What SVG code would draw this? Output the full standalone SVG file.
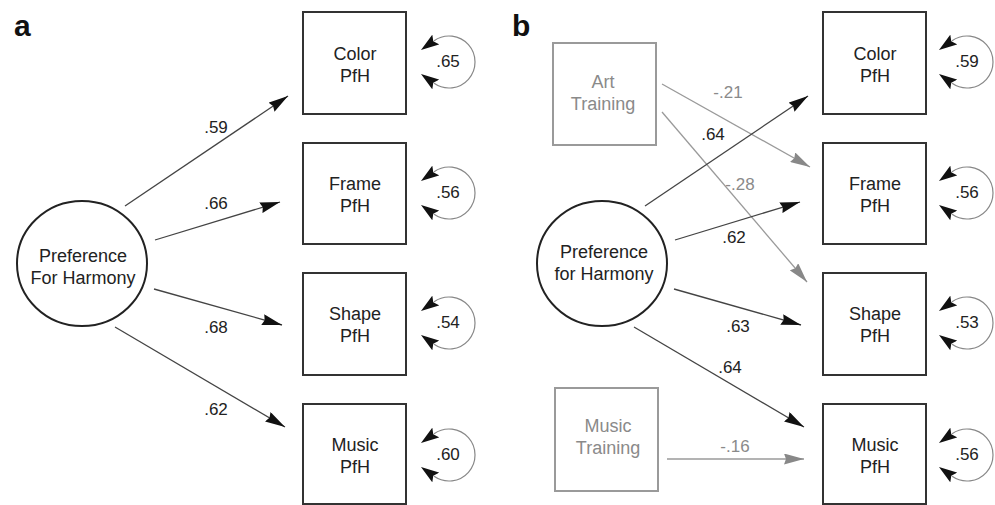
<svg xmlns="http://www.w3.org/2000/svg" width="995" height="505" viewBox="0 0 995 505">
  <style>
    text { font-family: "Liberation Sans", Arial, sans-serif; fill: #222; }
    .panel { font-size: 30px; font-weight: bold; fill: #111; }
    .lbl { font-size: 18px; text-anchor: middle; }
    .num { font-size: 17px; text-anchor: middle; }
    .gtxt { fill: #8a8a8a; }
    .box { fill: #fff; stroke: #333; stroke-width: 2; }
    .gbox { fill: #fff; stroke: #9a9a9a; stroke-width: 2; }
    .lat { fill: #fff; stroke: #222; stroke-width: 2; }
    .edge { stroke: #444; stroke-width: 1.3; fill: none; marker-end: url(#arrow); }
    .gedge { stroke: #9a9a9a; stroke-width: 1.3; fill: none; marker-end: url(#garrow); }
    .loop { stroke: #888; stroke-width: 1.2; fill: none; marker-start: url(#larrow); marker-end: url(#larrow); }
  </style>
  <defs>
    <marker id="arrow" markerUnits="userSpaceOnUse" markerWidth="20" markerHeight="11" refX="20" refY="5.5" orient="auto">
      <path d="M0,0 L20,5.5 L0,11 L2,5.5 z" fill="#111"/>
    </marker>
    <marker id="garrow" markerUnits="userSpaceOnUse" markerWidth="20" markerHeight="11" refX="20" refY="5.5" orient="auto">
      <path d="M0,0 L20,5.5 L0,11 L2,5.5 z" fill="#888"/>
    </marker>
    <marker id="larrow" markerUnits="userSpaceOnUse" markerWidth="18" markerHeight="12" refX="2" refY="6" orient="auto-start-reverse">
      <path d="M0,0 L18,6 L0,12 L3,6 z" fill="#111"/>
    </marker>
  </defs>

  <text class="panel" x="14" y="36">a</text>
  <text class="panel" x="512" y="36">b</text>

  <!-- connectors -->
  <g id="connectors">
    <!-- panel a loadings -->
    <line class="edge" x1="125" y1="206" x2="288" y2="96"/>
    <line class="edge" x1="155" y1="240" x2="280" y2="202"/>
    <line class="edge" x1="154" y1="289" x2="282" y2="325"/>
    <line class="edge" x1="115" y1="327" x2="285" y2="427"/>
    <text class="num" x="216" y="133">.59</text>
    <text class="num" x="216" y="209">.66</text>
    <text class="num" x="216" y="333">.68</text>
    <text class="num" x="216" y="415">.62</text>

    <!-- panel a residual loops -->
    <path class="loop" d="M434.1,40.7 A26,26 0 1,1 434.1,83.3"/>
    <path class="loop" d="M434.1,171.7 A26,26 0 1,1 434.1,214.3"/>
    <path class="loop" d="M434.1,301.7 A26,26 0 1,1 434.1,344.3"/>
    <path class="loop" d="M434.1,433.7 A26,26 0 1,1 434.1,476.3"/>
    <text class="num" x="448" y="67">.65</text>
    <text class="num" x="448" y="198">.56</text>
    <text class="num" x="448" y="328">.54</text>
    <text class="num" x="448" y="460">.60</text>

    <!-- panel b training effects -->
    <line class="gedge" x1="662" y1="84" x2="810" y2="167"/>
    <line class="gedge" x1="662" y1="112" x2="807" y2="282"/>
    <line class="gedge" x1="667" y1="459" x2="804" y2="459"/>
    <text class="num gtxt" x="728" y="98">-.21</text>
    <text class="num gtxt" x="740" y="190">-.28</text>
    <text class="num gtxt" x="735" y="452">-.16</text>

    <!-- panel b loadings -->
    <line class="edge" x1="645" y1="206" x2="808" y2="96"/>
    <line class="edge" x1="675" y1="240" x2="800" y2="202"/>
    <line class="edge" x1="674" y1="289" x2="801" y2="325"/>
    <line class="edge" x1="634" y1="327" x2="804" y2="427"/>
    <text class="num" x="713" y="140">.64</text>
    <text class="num" x="734" y="243">.62</text>
    <text class="num" x="738" y="332">.63</text>
    <text class="num" x="730" y="373">.64</text>

    <!-- panel b residual loops -->
    <path class="loop" d="M952.1,40.7 A26,26 0 1,1 952.1,83.3"/>
    <path class="loop" d="M952.1,171.7 A26,26 0 1,1 952.1,214.3"/>
    <path class="loop" d="M952.1,301.7 A26,26 0 1,1 952.1,344.3"/>
    <path class="loop" d="M952.1,433.7 A26,26 0 1,1 952.1,476.3"/>
    <text class="num" x="967" y="67">.59</text>
    <text class="num" x="967" y="198">.56</text>
    <text class="num" x="967" y="328">.53</text>
    <text class="num" x="967" y="460">.56</text>
  </g>

  <!-- panel a nodes -->
  <g id="a-pfh">
    <ellipse class="lat" cx="82" cy="263.5" rx="65" ry="62.5"/>
    <text class="lbl" x="83" y="262">Preference</text>
    <text class="lbl" x="83" y="284">For Harmony</text>
  </g>
  <g id="a-color">
    <rect class="box" x="303" y="12" width="103" height="102"/>
    <text class="lbl" x="355" y="60">Color</text>
    <text class="lbl" x="355" y="82">PfH</text>
  </g>
  <g id="a-frame">
    <rect class="box" x="303" y="143" width="103" height="101"/>
    <text class="lbl" x="355" y="190">Frame</text>
    <text class="lbl" x="355" y="212">PfH</text>
  </g>
  <g id="a-shape">
    <rect class="box" x="303" y="273" width="103" height="102"/>
    <text class="lbl" x="355" y="320">Shape</text>
    <text class="lbl" x="355" y="342">PfH</text>
  </g>
  <g id="a-music">
    <rect class="box" x="303" y="404" width="103" height="100"/>
    <text class="lbl" x="355" y="451">Music</text>
    <text class="lbl" x="355" y="473">PfH</text>
  </g>

  <!-- panel b nodes -->
  <g id="b-art">
    <rect class="gbox" x="553" y="43" width="103" height="102"/>
    <text class="lbl gtxt" x="603" y="88">Art</text>
    <text class="lbl gtxt" x="603" y="110">Training</text>
  </g>
  <g id="b-musictraining">
    <rect class="gbox" x="555" y="388" width="103" height="103"/>
    <text class="lbl gtxt" x="608" y="432">Music</text>
    <text class="lbl gtxt" x="608" y="454">Training</text>
  </g>
  <g id="b-pfh">
    <ellipse class="lat" cx="602" cy="263.5" rx="65" ry="62.5"/>
    <text class="lbl" x="604" y="258">Preference</text>
    <text class="lbl" x="604" y="280">for Harmony</text>
  </g>
  <g id="b-color">
    <rect class="box" x="823" y="12" width="103" height="102"/>
    <text class="lbl" x="875" y="60">Color</text>
    <text class="lbl" x="875" y="82">PfH</text>
  </g>
  <g id="b-frame">
    <rect class="box" x="823" y="143" width="103" height="101"/>
    <text class="lbl" x="875" y="190">Frame</text>
    <text class="lbl" x="875" y="212">PfH</text>
  </g>
  <g id="b-shape">
    <rect class="box" x="823" y="273" width="103" height="102"/>
    <text class="lbl" x="875" y="320">Shape</text>
    <text class="lbl" x="875" y="342">PfH</text>
  </g>
  <g id="b-music">
    <rect class="box" x="823" y="404" width="103" height="100"/>
    <text class="lbl" x="875" y="451">Music</text>
    <text class="lbl" x="875" y="473">PfH</text>
  </g>
</svg>
